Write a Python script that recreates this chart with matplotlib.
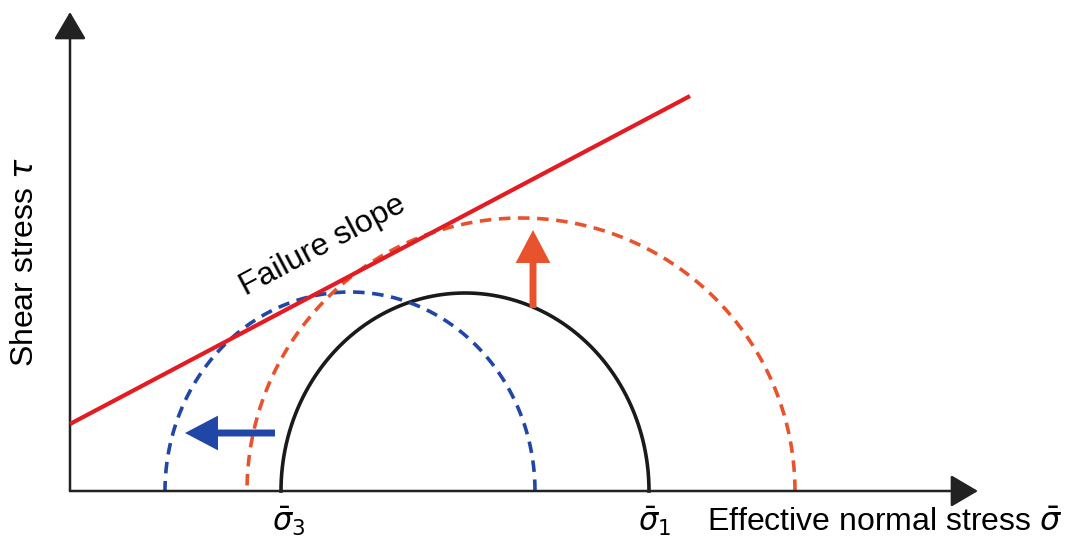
import numpy as np
import matplotlib
matplotlib.use("Agg")
import matplotlib.pyplot as plt

plt.rcParams['font.family'] = ['Liberation Sans', 'DejaVu Sans']
plt.rcParams['mathtext.fontset'] = 'dejavusans'

# Mohr circles: centre, half width along sigma, height along tau
circle_names = ['initial', 'pore pressure', 'shear load']
circle_center = [395, 280, 451]
circle_rx = [184, 185, 274]
circle_ry = [198, 199, 273]
circle_colors = ['#1a1a1a', '#2147a6', '#e8532d']
circle_styles = ['-', (0, (3.2, 2.1)), (0, (3.2, 2.1))]

# failure envelope tau = c + slope * sigma
fail_c = 67
fail_slope = 0.529
fail_x = [0, 620]

# shift arrows (start, end)
blue_arrow = [(205, 58), (115, 58)]
red_arrow = [(463, 183), (463, 261)]

tick_pos = [211, 577]
tick_labels = [r'$\bar{\sigma}_3$', r'$\bar{\sigma}_1$']

fig = plt.figure(figsize=(10.72, 5.39), dpi=100)
ax = fig.add_axes([0, 0, 1, 1])
ax.set_xlim(-70, 1002)
ax.set_ylim(-48, 491)
ax.axis('off')

# axes with arrow heads
axis_arrow = dict(arrowstyle='-|>,head_length=0.68,head_width=0.4',
                  mutation_scale=25, lw=1.8, color='#222222', shrinkA=0, shrinkB=0)
ax.annotate('', xy=(908, 0), xytext=(0, 0), arrowprops=axis_arrow)
ax.annotate('', xy=(0, 479), xytext=(0, 0), arrowprops=axis_arrow)

# failure line
fx = np.array(fail_x)
ax.plot(fx, fail_c + fail_slope * fx, color='#e31b23', lw=3, solid_capstyle='butt', zorder=3)

t = np.linspace(0, np.pi, 300)
for c, rx, ry, col, ls in zip(circle_center, circle_rx, circle_ry, circle_colors, circle_styles):
    ax.plot(c + rx * np.cos(t), ry * np.sin(t), color=col, lw=2.6, linestyle=ls, zorder=2)

shift_style = 'simple,head_length=0.95,head_width=1.0,tail_width=0.2'
ax.annotate('', xy=blue_arrow[1], xytext=blue_arrow[0],
            arrowprops=dict(arrowstyle=shift_style, mutation_scale=25, lw=0,
                            color='#2147a6', shrinkA=0, shrinkB=0))
ax.annotate('', xy=red_arrow[1], xytext=red_arrow[0],
            arrowprops=dict(arrowstyle=shift_style, mutation_scale=25, lw=0,
                            color='#e8532d', shrinkA=0, shrinkB=0))

for xp, lab in zip(tick_pos, tick_labels):
    ax.text(xp + 8, -30, lab, fontsize=22, ha='center', va='center')

ax.text(253, 245, 'Failure slope', fontsize=23, rotation=28, ha='center', va='center',
        rotation_mode='anchor')
ax.text(-45, 229, r'Shear stress $\tau$', fontsize=23, rotation=90, ha='center', va='center')
ax.text(815, -32, r'Effective normal stress $\bar{\sigma}$', fontsize=23, ha='center', va='center')

fig.savefig('out.png', dpi=100)
